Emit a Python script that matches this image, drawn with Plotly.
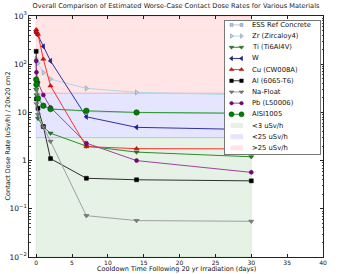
import plotly.graph_objects as go

# ---------------- data ----------------
days = [0, 0.04, 0.25, 1, 2, 7, 14, 30]

ess_concrete = [40, 30, 22, 14, 12, 10.4, 9.8, 9.4]
zr_zircaloy4 = [130, 118, 105, 67, 49, 31.6, 26, 23]
ti_ti6al4v = [30, 23, 7.5, 5.0, 3.7, 2.0, 1.5, 1.2]
w_tungsten = [480, 440, 400, 234, 117, 8.1, 4.9, 4.4]
cu_cw008a = [520, 470, 420, 128, 35.6, 1.95, 1.77, 1.75]
al_6065 = [185, 19, 12.2, 5.1, 1.1, 0.43, 0.40, 0.38]
na_float = [35, 15, 9, 5, 2.5, 0.072, 0.057, 0.055]
pb_l50006 = [117, 68, 42, 23, 12.7, 2.3, 1.0, 0.57]
aisi1005 = [48, 38, 19.5, 13.7, 11.7, 10.8, 10.0, 9.6]

series_names = ["ESS Ref Concrete", "Zr (Zircaloy4)", "Ti (Ti6Al4V)", "W", "Cu (CW008A)",
                "Al (6065-T6)", "Na-Float", "Pb (L50006)", "AISI1005"]
series_values = [ess_concrete, zr_zircaloy4, ti_ti6al4v, w_tungsten, cu_cw008a,
                 al_6065, na_float, pb_l50006, aisi1005]

band_names = ["<3 uSv/h", "<25 uSv/h", ">25 uSv/h"]
band_limits = [0.01, 3, 25, 1000]
band_days = [0, 30]

# ---------------- styles ----------------
styles = [
    dict(line="#b8c8dc", marker="#b0c4de", edge="#7f8fa8", symbol="square", size=3.5),
    dict(line="#add8e6", marker="#b8d0e0", edge="#8090a0", symbol="triangle-right", size=4.5),
    dict(line="#2e8b2e", marker="#1f7a1f", edge="#1f5a1f", symbol="triangle-down", size=4.5),
    dict(line="#3030a8", marker="#202090", edge="#101060", symbol="triangle-left", size=4.5),
    dict(line="#ff3030", marker="#e01010", edge="#900000", symbol="triangle-up", size=4.5),
    dict(line="#303030", marker="#000000", edge="#000000", symbol="square", size=4),
    dict(line="#a0a0a0", marker="#808080", edge="#505050", symbol="triangle-down", size=4.5),
    dict(line="#a040a0", marker="#800080", edge="#500050", symbol="circle", size=4),
    dict(line="#2e9a2e", marker="#008000", edge="#004000", symbol="circle", size=5.5),
]
band_colors = ["rgba(0,128,0,0.10)", "rgba(0,0,255,0.10)", "rgba(255,0,0,0.10)"]
band_edges = ["rgba(0,128,0,0.18)", "rgba(0,0,255,0.18)", "rgba(255,0,0,0.18)"]

FONT = "DejaVu Sans"
fig = go.Figure()

# bands
for i, name in enumerate(band_names):
    lo, hi = band_limits[i], band_limits[i + 1]
    x0, x1 = band_days
    fig.add_trace(go.Scatter(
        x=[x0, x1, x1, x0, x0], y=[lo, lo, hi, hi, lo], mode="lines",
        fill="toself", fillcolor=band_colors[i], line=dict(width=0.6, color=band_edges[i]),
        hoverinfo="skip", showlegend=False, xaxis="x", yaxis="y"))

# data series
for name, vals, st in zip(series_names, series_values, styles):
    fig.add_trace(go.Scatter(
        x=days, y=vals, name=name, mode="lines+markers",
        line=dict(color=st["line"], width=1),
        marker=dict(symbol=st["symbol"], size=st["size"], color=st["marker"],
                    line=dict(color=st["edge"], width=0.5)),
        showlegend=False, xaxis="x", yaxis="y"))

# ---------------- compact legend (own small axes) ----------------
n_rows = len(series_names) + len(band_names)
box_w = 95
fig.add_trace(go.Scatter(
    x=[0, box_w, box_w, 0, 0], y=[-0.35, -0.35, n_rows - 0.45, n_rows - 0.45, -0.35],
    mode="lines", fill="toself", fillcolor="white", line=dict(width=0),
    hoverinfo="skip", showlegend=False, xaxis="x2", yaxis="y2"))
for i, (name, st) in enumerate(zip(series_names, styles)):
    fig.add_trace(go.Scatter(
        x=[6.5, 16.5], y=[i, i], mode="lines+markers",
        line=dict(color=st["line"], width=1),
        marker=dict(symbol=st["symbol"], size=st["size"] - 0.5, color=st["marker"],
                    line=dict(color=st["edge"], width=0.5)),
        hoverinfo="skip", showlegend=False, xaxis="x2", yaxis="y2"))
for j, name in enumerate(band_names):
    r = len(series_names) + j
    fig.add_trace(go.Scatter(
        x=[5.5, 18], y=[r, r], mode="lines",
        line=dict(color=band_colors[j], width=5),
        hoverinfo="skip", showlegend=False, xaxis="x2", yaxis="y2"))

annotations = []
for i, name in enumerate(series_names + band_names):
    annotations.append(dict(x=25, y=i, xref="x2", yref="y2", text=name, showarrow=False,
                            xanchor="left", yanchor="middle",
                            font=dict(family=FONT, size=6.8, color="#111")))

L, R, T, B = 29, 20, 16, 17
W_, H_ = 343, 274
pw, ph = W_ - L - R, H_ - T - B
lx0, lx1, ly_top, ly_bot = 225, 320, 21, 154

# axis titles
annotations.append(dict(x=0.5, y=(H_ - B - 268.5) / ph, xref="paper", yref="paper",
                        text="Cooldown Time Following 20 yr Irradiation (days)",
                        showarrow=False, xanchor="center", yanchor="middle",
                        font=dict(family=FONT, size=6.5, color="#111")))
annotations.append(dict(x=(7 - L) / pw, y=0.5, xref="paper", yref="paper",
                        text="Contact Dose Rate (uSv/h) / 20x20 cm2", textangle=-90,
                        showarrow=False, xanchor="center", yanchor="middle",
                        font=dict(family=FONT, size=6.5, color="#111")))

fig.update_layout(
    width=W_, height=H_,
    margin=dict(l=L, r=R, t=T, b=B, pad=0),
    paper_bgcolor="white", plot_bgcolor="white",
    font=dict(family=FONT, size=6, color="#111"),
    title=dict(text="Overall Comparison of Estimated Worse-Case Contact Dose Rates for Various Materials",
               x=176 / W_, xanchor="center", y=1 - 6 / H_, yanchor="middle",
               font=dict(family=FONT, size=6.6, color="#222")),
    showlegend=False,
    annotations=annotations,
    xaxis=dict(range=[-1, 40], tickvals=[0, 5, 10, 15, 20, 25, 30, 35, 40],
               showgrid=False, zeroline=False, showline=True, linecolor="#222", linewidth=1,
               mirror="ticks", ticks="inside", ticklen=3, tickcolor="#222",
               tickfont=dict(family=FONT, size=6), automargin=False),
    yaxis=dict(type="log", range=[-2, 3], dtick=1, exponentformat="power",
               showgrid=False, zeroline=False, showline=True, linecolor="#222", linewidth=1,
               mirror="ticks", ticks="inside", ticklen=3, tickcolor="#222",
               minor=dict(ticks="inside", ticklen=1.5, tickcolor="#444", dtick="D1"),
               tickfont=dict(family=FONT, size=6), automargin=False),
    xaxis2=dict(domain=[(lx0 - L) / pw, (lx1 - L) / pw], anchor="y2", range=[0, box_w],
                showgrid=False, zeroline=False, showticklabels=False, ticks="",
                showline=True, mirror=True, linecolor="#777", linewidth=1, fixedrange=True),
    yaxis2=dict(domain=[(H_ - B - ly_bot) / ph, (H_ - B - ly_top) / ph], anchor="x2",
                range=[n_rows - 0.45, -0.35],
                showgrid=False, zeroline=False, showticklabels=False, ticks="",
                showline=True, mirror=True, linecolor="#777", linewidth=1, fixedrange=True),
)

fig.write_html("out.html",
               config={"displayModeBar": False},
               post_script="document.body.style.margin='0';document.body.style.padding='0';")
